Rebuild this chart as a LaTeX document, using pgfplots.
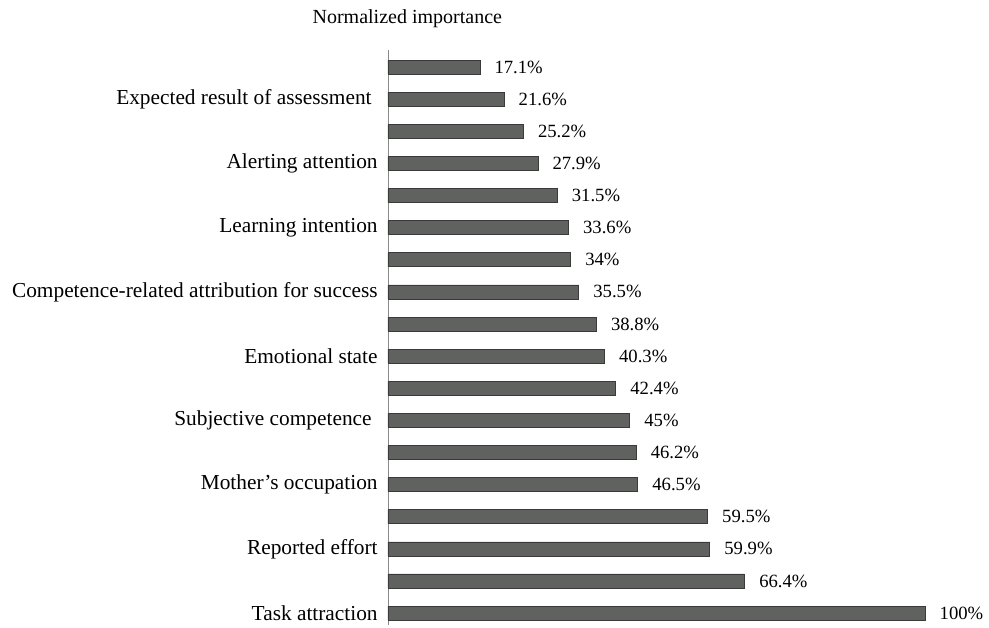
\documentclass[border=0pt]{standalone}
\usepackage{fontspec}
\setmainfont{Liberation Serif}
\usepackage{pgfplots}
\pgfplotsset{compat=1.18}
\definecolor{barfill}{HTML}{606260}
\definecolor{baredge}{HTML}{3A3A3A}
\definecolor{axisgray}{HTML}{8A8A8A}
\begin{document}
\begin{tikzpicture}
\useasboundingbox (-291pt,-2.25pt) rectangle (450.75pt,468.75pt);
\begin{axis}[
  scale only axis,
  width=402.75pt, height=431.25pt,
  xmin=0, xmax=100,
  ymin=0.47, ymax=18.37,
  y dir=reverse,
  axis x line=none,
  axis y line=left,
  axis line style={axisgray, -},
  ytick={2,4,6,8,10,12,14,16,18},
  yticklabels={Expected result of assessment\hspace*{4.5pt},Alerting attention,Learning intention,Competence-related attribution for success,Emotional state,Subjective competence\hspace*{4.5pt},Mother’s occupation,Reported effort,Task attraction},
  ytick style={draw=none},
  yticklabel style={font=\fontsize{16}{18}\selectfont, xshift=0pt},
  xbar, bar width=10.5pt,
  bar shift=0pt,
  point meta=x,
  nodes near coords={\pgfmathprintnumber{\pgfplotspointmeta}\%},
  nodes near coords style={font=\fontsize{14}{16}\selectfont, text=black, xshift=7.5pt},
  /pgf/number format/assume math mode=true,
  clip=false,
]
\addplot[fill=barfill, draw=baredge, line width=0.4pt] coordinates {
(17.1,1) (21.6,2) (25.2,3) (27.9,4) (31.5,5) (33.6,6) (34,7) (35.5,8) (38.8,9)
(40.3,10) (42.4,11) (45,12) (46.2,13) (46.5,14) (59.5,15) (59.9,16) (66.4,17) (100,18)
};
\end{axis}
\node[font=\fontsize{15}{17}\selectfont] at ([xshift=14.5pt,yshift=23.5pt]current axis.north west) {Normalized importance};
\end{tikzpicture}
\end{document}
